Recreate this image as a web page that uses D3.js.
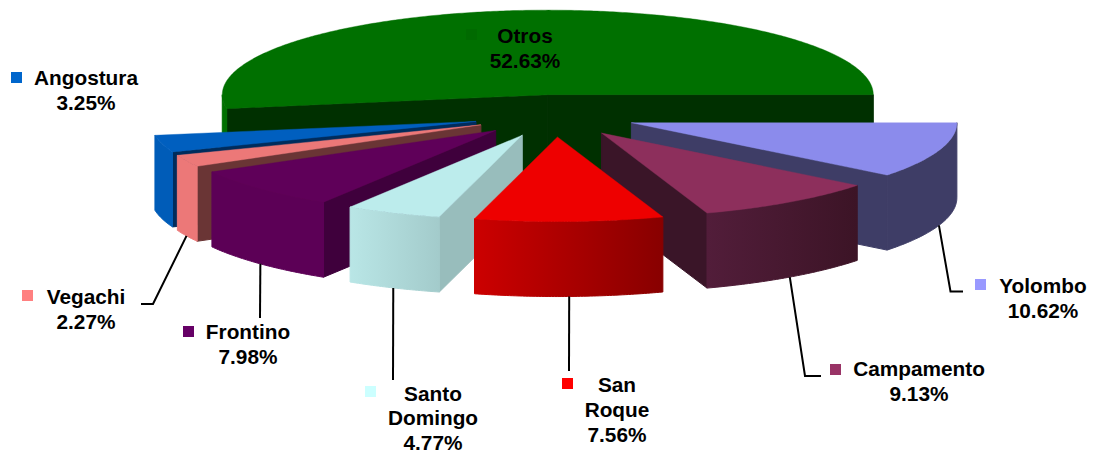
<!DOCTYPE html>
<html><head><meta charset="utf-8">
<script src="https://cdn.jsdelivr.net/npm/d3@7"></script>
<style>html,body{margin:0;padding:0;background:#fff}svg{display:block}
text{font-family:"Liberation Sans",Arial,sans-serif;font-weight:700;font-size:20.8px;fill:#000;text-anchor:middle}</style>
</head><body><svg id="c" width="1094" height="453"></svg>
<script>
// Categories, starting at 3 o'clock and running clockwise
const categories = ["Yolombo","Campamento","San Roque","Santo Domingo","Frontino","Vegachi","Angostura","Otros"];
// Printed labels (San Roque's printed figure differs from its slice in the original)
const printedPct = ["10.62%","9.13%","7.56%","4.77%","7.98%","2.27%","3.25%","52.63%"];
const sliceShare = [10.62,9.13,9.35,4.77,7.98,2.27,3.25,52.63];
const labelLines = [["Yolombo"],["Campamento"],["San","Roque"],["Santo","Domingo"],["Frontino"],["Vegachi"],["Angostura"],["Otros"]];
const topColors  = ["#8b8bec","#8d2f5c","#ee0000","#bcecec","#5f0059","#ec7878","#005fbf","#007000"];
const edgeColors = ["#3e3d66","#3a1528","#7a0000","#98bdbc","#3f003c","#6a3535","#002c5c","#003000"];
const wallFrom   = ["#3e3d66","#521d3a","#cc0000","#b9e6e6","#5c0056","#ec7878","#005cb8","#007000"];
const wallTo     = ["#3e3d66","#3c1426","#880000","#a3cbcb","#5c0056","#ec7878","#005cb8","#007000"];
const keyColors  = ["#9999ff","#993366","#ff0000","#ccffff","#660066","#ff8080","#0066cc","#006a00"];

// Layout
const C = {x:554.5, y:115.8, rx:325.5, ry:84.6, depth:75, explode:0.25};
const labelCenter = [[1043,293],[919,376],[617,392],[433,400.5],[248,339],[86,304],[86,85],[525,43]];
const labelStep = 24.8;
const keyPos = [[975,279],[830,364],[562,378],[365,386],[183,326],[22,290],[11,72],[466,29]];
const leaderVia = [[[950.5,291.5],[963,291.5]],[[805,376],[821,376]],[[569,371]],[[393,380]],[[260,318]],[[153,304],[141,304]],[],[]];
const drawOrder = [7,6,5,4,3,0,1,2];

const svg = d3.select("#c");
const defs = svg.append("defs");
const arcs = d3.pie().sort(null).startAngle(Math.PI/2).endAngle(Math.PI*2.5)(sliceShare);
const sx = d3.scaleLinear().domain([-1,1]).range([-C.rx,C.rx]);
const sy = d3.scaleLinear().domain([-1,1]).range([C.ry,-C.ry]);
const line = d3.line().x(d=>d[0]).y(d=>d[1]);

function apex(a){const m=(a.startAngle+a.endAngle)/2;
  return [C.x+C.explode*sx(Math.sin(m)), C.y+C.explode*sy(Math.cos(m))];}
function rim(p,t,dz=0){return [p[0]+sx(Math.sin(t)), p[1]+sy(Math.cos(t))+dz];}
function sweep(t0,t1){const n=Math.max(2,Math.ceil((t1-t0)/0.01));return d3.range(n+1).map(i=>t0+(t1-t0)*i/n);}

drawOrder.forEach(i=>{
  const a=arcs[i], p=apex(a), g=svg.append("g").attr("class","slice");
  const t0=a.startAngle, t1=a.endAngle;
  const face=(t)=>g.append("path")
     .attr("d",line([p,rim(p,t),rim(p,t,C.depth),[p[0],p[1]+C.depth]])+"Z")
     .attr("fill",edgeColors[i]).attr("stroke",edgeColors[i]).attr("stroke-width",1);
  if(Math.sin(t0)<0) face(t0);
  if(Math.sin(t1)>0.001 || Math.abs(t1-Math.PI*2.5)<1e-6) face(t1);
  // outer wall: only the part that faces the viewer
  const w0=Math.max(t0,Math.PI/2), w1=Math.min(t1,Math.PI*1.5);
  if(w1>w0){
    const gid="w"+i, xa=rim(p,w0)[0], xb=rim(p,w1)[0];
    const gr=defs.append("linearGradient").attr("id",gid).attr("gradientUnits","userSpaceOnUse")
      .attr("x1",Math.min(xa,xb)).attr("x2",Math.max(xa,xb)).attr("y1",0).attr("y2",0);
    gr.append("stop").attr("offset",0).attr("stop-color",wallFrom[i]);
    gr.append("stop").attr("offset",1).attr("stop-color",wallTo[i]);
    const ts=sweep(w0,w1);
    g.append("path").attr("d",line(ts.map(t=>rim(p,t)).concat(ts.slice().reverse().map(t=>rim(p,t,C.depth))))+"Z")
      .attr("fill",`url(#${gid})`).attr("stroke",`url(#${gid})`).attr("stroke-width",1);
  }
  g.append("path").attr("d",line([p].concat(sweep(t0,t1).map(t=>rim(p,t))))+"Z")
    .attr("fill",topColors[i]).attr("stroke",topColors[i]).attr("stroke-width",0.4);
});

// Leader lines start at the mid-angle of each slice's lower rim
leaderVia.forEach((via,i)=>{
  if(!via.length) return;
  const a=arcs[i], m=(a.startAngle+a.endAngle)/2;
  svg.append("path").attr("d",line([rim(apex(a),m,C.depth)].concat(via)))
    .attr("fill","none").attr("stroke","#000").attr("stroke-width",2);
});

categories.forEach((c,i)=>{
  svg.append("rect").attr("x",keyPos[i][0]).attr("y",keyPos[i][1]).attr("width",11).attr("height",11).attr("fill",keyColors[i]);
  const lines=labelLines[i].concat(printedPct[i]);
  const t=svg.append("text");
  lines.forEach((s,j)=>t.append("tspan").attr("x",labelCenter[i][0]).attr("y",labelCenter[i][1]+j*labelStep).text(s));
});
</script></body></html>
